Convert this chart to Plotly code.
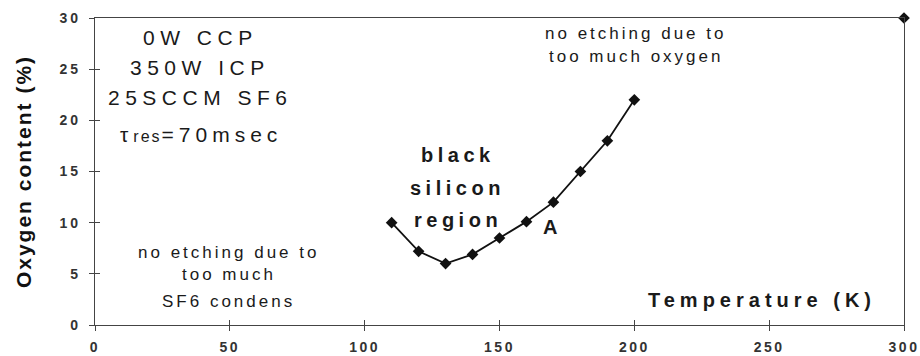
import plotly.graph_objects as go

# Oxygen content needed for black silicon vs. substrate temperature
temperature_k = [110, 120, 130, 140, 150, 160, 170, 180, 190, 200]
oxygen_pct = [10, 7.2, 6, 6.9, 8.5, 10.1, 12, 15, 18, 22]

# Room-temperature point
room_temp_k = [300]
room_temp_oxygen = [30]

x_ticks = [0, 50, 100, 150, 200, 250, 300]
y_ticks = [0, 5, 10, 15, 20, 25, 30]

process_lines = ["0W CCP", "350W ICP", "25SCCM SF6"]
oxygen_note = ["no etching due to", "too much oxygen"]
condens_note = ["no etching due to", "too much", "SF6 condens"]
region_note = ["black", "silicon", "region"]

FONT = "Liberation Sans, Arial, sans-serif"
INK = "#1a1a1a"


def spaced(text, px, size=None):
    style = f"letter-spacing:{px}px"
    if size:
        style += f";font-size:{size}px"
    return f'<span style="{style}">{text}</span>'


fig = go.Figure()

marker = dict(symbol="diamond", size=9, color="#111111")
fig.add_trace(go.Scatter(
    x=temperature_k, y=oxygen_pct, mode="lines+markers",
    line=dict(color="#111111", width=1.8), marker=marker,
    cliponaxis=False, showlegend=False, hoverinfo="skip"))
fig.add_trace(go.Scatter(
    x=room_temp_k, y=room_temp_oxygen, mode="markers", marker=marker,
    cliponaxis=False, showlegend=False, hoverinfo="skip"))
# empty trace so the inner-tick overlay axes get drawn
fig.add_trace(go.Scatter(x=[], y=[], xaxis="x2", yaxis="y2",
                         showlegend=False, hoverinfo="skip"))

tick_font = dict(family=FONT, size=14, color="#333333", weight="bold")
axis_common = dict(showgrid=False, zeroline=False, automargin=False)

fig.update_layout(
    width=920, height=356,
    margin=dict(l=95, r=16, t=18, b=31),
    paper_bgcolor="white", plot_bgcolor="white",
    xaxis=dict(
        range=[0, 300], tickvals=x_ticks,
        ticktext=[spaced(str(v), 2.5) for v in x_ticks],
        ticks="outside", ticklen=5, tickwidth=1.2, tickcolor="#444444",
        showline=True, linecolor="#444444", linewidth=1.3, mirror=True,
        tickfont=tick_font, ticklabelstandoff=4, ticklabeloverflow="allow",
        **axis_common),
    yaxis=dict(
        range=[0, 30], tickvals=y_ticks,
        ticktext=[spaced(str(v), 3) for v in y_ticks],
        ticks="outside", ticklen=5, tickwidth=1.2, tickcolor="#444444",
        showline=True, linecolor="#444444", linewidth=1.3, mirror=True,
        tickfont=tick_font, ticklabelstandoff=5, ticklabeloverflow="allow",
        title=dict(text=spaced("Oxygen content (%)", 2),
                   font=dict(family=FONT, size=21, color="#111111", weight="bold"),
                   standoff=22),
        **axis_common),
    xaxis2=dict(overlaying="x", range=[0, 300], tickvals=x_ticks,
                ticks="inside", ticklen=5, tickwidth=1.2, tickcolor="#444444",
                showticklabels=False, showline=False, **axis_common),
    yaxis2=dict(overlaying="y", range=[0, 30], tickvals=y_ticks,
                ticks="inside", ticklen=5, tickwidth=1.2, tickcolor="#444444",
                showticklabels=False, showline=False, **axis_common),
)

annotations = []


def note(text, x, y, size, bold=False):
    annotations.append(dict(
        x=x, y=y, xref="x", yref="y", text=text, showarrow=False,
        xanchor="center", yanchor="middle",
        font=dict(family=FONT, size=size, color=INK,
                  weight="bold" if bold else "normal")))


# process conditions block
for text, y in zip(process_lines, [28.14, 25.2, 22.28]):
    note(spaced(text, 5.5), 39.0, y, 21)
note(spaced("τ", 5) + spaced("res", 2, 16) + spaced("=70msec", 5), 39.3, 18.57, 21)

for text, y in zip(oxygen_note, [28.5, 26.2]):
    note(spaced(text, 3), 200.6, y, 17)

for text, y in zip(condens_note, [7.13, 4.89, 2.25]):
    note(spaced(text, 3), 49.6, y, 17)

for text, y in zip(region_note, [16.6, 13.4, 10.26]):
    note(spaced(text, 4.5), 134.5, y, 20, bold=True)

note("A", 168.7, 9.58, 20, bold=True)
note(spaced("Temperature (K)", 5), 247.5, 2.44, 20, bold=True)

fig.update_layout(annotations=annotations)

fig.write_html("out.html")
